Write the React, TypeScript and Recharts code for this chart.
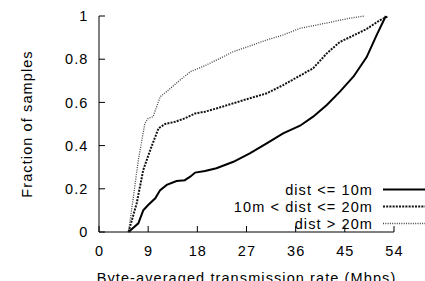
import { LineChart, Line, XAxis, YAxis } from 'recharts'

// CDF of byte-averaged transmission rate
const nearRate = [5.4, 7.2, 8.1, 9.0, 10.3, 11.2, 12.4, 14.2, 15.7, 16.7, 17.6, 19.4, 21.5, 24.6, 27.6, 30.7, 33.7, 36.8, 39.2, 41.7, 44.1, 46.6, 49.0, 50.8, 52.5]
const nearFrac = [0, 0.04, 0.1, 0.125, 0.156, 0.194, 0.218, 0.236, 0.24, 0.256, 0.275, 0.282, 0.295, 0.325, 0.364, 0.41, 0.457, 0.492, 0.534, 0.588, 0.65, 0.72, 0.81, 0.91, 1]

const midRate = [5.4, 6.9, 8.1, 9.6, 10.9, 12.1, 13.9, 15.7, 17.6, 19.4, 21.5, 24.6, 27.6, 30.7, 33.7, 36.8, 39.2, 41.7, 44.1, 46.6, 49.0, 51.4, 53.0]
const midFrac = [0, 0.133, 0.287, 0.395, 0.48, 0.5, 0.51, 0.526, 0.549, 0.557, 0.572, 0.596, 0.619, 0.642, 0.68, 0.724, 0.758, 0.827, 0.88, 0.91, 0.94, 0.98, 1]

const farRate = [5.4, 6.3, 7.2, 8.4, 9.0, 9.9, 11.2, 12.7, 14.5, 16.7, 19.4, 21.5, 24.6, 27.6, 30.7, 33.7, 36.8, 39.8, 42.9, 45.9, 48.7]
const farFrac = [0, 0.163, 0.333, 0.503, 0.526, 0.534, 0.626, 0.657, 0.696, 0.742, 0.77, 0.796, 0.835, 0.861, 0.889, 0.912, 0.943, 0.958, 0.974, 0.99, 1]

const xTicks = [0, 9, 18, 27, 36, 45, 54]
const yTicks = [0, 0.2, 0.4, 0.6, 0.8, 1]

const toPoints = (rate: number[], frac: number[]) => rate.map((r, i) => ({ rate: r, frac: frac[i] }))

const series = [
  { name: 'dist <= 10m', data: toPoints(nearRate, nearFrac), stroke: '#000', width: 2, dash: undefined },
  { name: '10m < dist <= 20m', data: toPoints(midRate, midFrac), stroke: '#111', width: 2, dash: '2 1.2' },
  { name: 'dist > 20m', data: toPoints(farRate, farFrac), stroke: '#444', width: 1.3, dash: '1 1.3' },
]

const font = { fontFamily: '"Liberation Sans", Arial, Helvetica, sans-serif', fontSize: 14.5, letterSpacing: 1.1 }

function YTick({ x, y, payload }: any) {
  return (
    <g>
      <line x1={x + 12} y1={y} x2={x + 18} y2={y} stroke="#000" strokeWidth={1} />
      <text x={x + 1.5} y={y} dy="0.36em" textAnchor="end" fill="#000" style={font}>
        {payload.value}
      </text>
    </g>
  )
}

function XTick({ x, y, payload }: any) {
  return (
    <g>
      <line x1={x} y1={y - 14} x2={x} y2={y - 20} stroke="#000" strokeWidth={1} />
      <text x={x + 0.5} y={y} dy="0.71em" textAnchor="middle" fill="#000" style={font}>
        {payload.value}
      </text>
    </g>
  )
}

function LegendBox() {
  return (
    <svg width={425} height={281} style={{ position: 'absolute', left: 0, top: 0, pointerEvents: 'none' }}>
      {series.map((s, i) => (
        <g key={s.name}>
          <text x={373} y={195 + i * 17} textAnchor="end" fill="#000" style={font}>
            {s.name}
          </text>
          <line
            x1={383}
            y1={189.5 + i * 17}
            x2={425}
            y2={189.5 + i * 17}
            stroke={s.stroke}
            strokeWidth={s.width}
            strokeDasharray={s.dash}
          />
        </g>
      ))}
    </svg>
  )
}

export default function App() {
  return (
    <div style={{ position: 'absolute', left: 0, top: 0, width: 425, height: 281, background: '#fff', overflow: 'hidden' }}>
      <LineChart width={425} height={281} margin={{ top: 16, right: 31, left: 0, bottom: 0 }}>
        <XAxis
          type="number"
          dataKey="rate"
          domain={[0, 54]}
          ticks={xTicks}
          allowDataOverflow
          height={49}
          tickSize={0}
          tickMargin={14}
          tickLine={false}
          tick={<XTick />}
          stroke="#000"
          label={{ value: 'Byte-averaged transmission rate (Mbps)', position: 'insideBottom', offset: -2, fill: '#000', style: font }}
        />
        <YAxis
          type="number"
          dataKey="frac"
          domain={[0, 1]}
          ticks={yTicks}
          width={99}
          tickSize={0}
          tickMargin={12}
          tickLine={false}
          tick={<YTick />}
          stroke="#000"
          label={{ value: 'Fraction of samples', angle: -90, position: 'insideLeft', offset: 27, fill: '#000', style: { ...font, textAnchor: 'middle' } }}
        />
        {series.map((s) => (
          <Line
            key={s.name}
            data={s.data}
            dataKey="frac"
            name={s.name}
            type="linear"
            stroke={s.stroke}
            strokeWidth={s.width}
            strokeDasharray={s.dash}
            dot={false}
            isAnimationActive={false}
          />
        ))}
      </LineChart>
      <LegendBox />
    </div>
  )
}
